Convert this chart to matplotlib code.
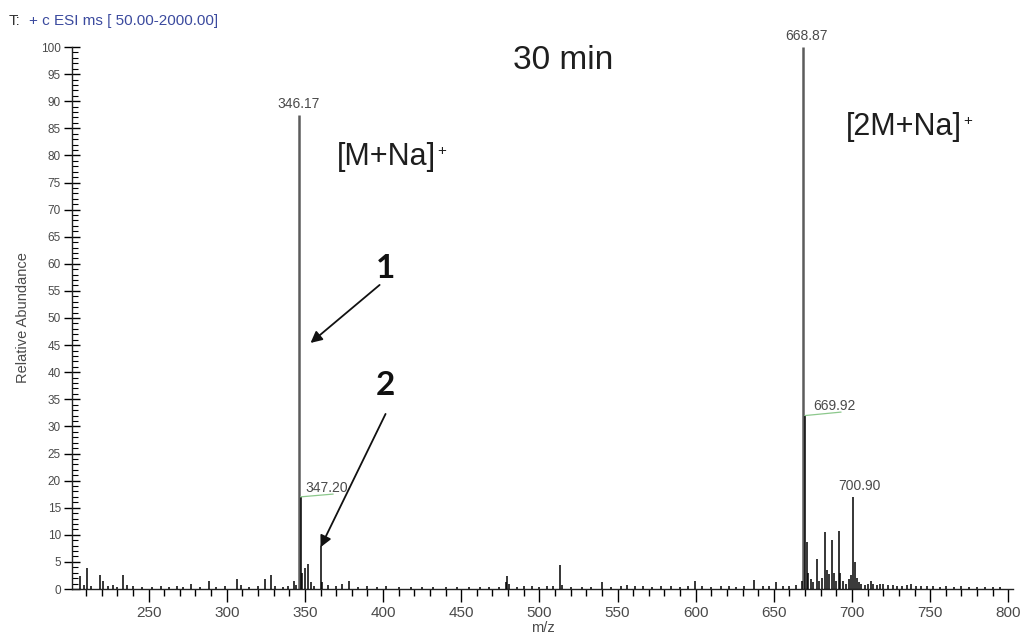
import matplotlib
matplotlib.use("Agg")
import matplotlib.pyplot as plt
from matplotlib.ticker import MultipleLocator

plt.rcParams["font.family"] = ["Liberation Sans", "DejaVu Sans"]

# centroided ESI(+) spectrum, 30 min sample
mz = [206.0, 208.5, 210.4, 213.0, 218.8, 220.8, 224.0, 227.0, 230.0, 233.7,
      236.0, 240.0, 246.0, 252.0, 258.0, 263.0, 268.0, 272.0, 277.0, 283.0,
      288.8, 293.0, 299.0, 306.7, 309.0, 314.0, 320.0, 324.7, 328.0, 331.0,
      336.0, 339.0, 342.9, 344.2, 346.17, 347.20, 348.2, 350.3, 352.0, 354.0,
      356.0, 360.2, 361.2, 365.0, 370.0, 374.0, 378.0, 384.0, 390.0, 396.0,
      402.0, 410.0, 418.0, 425.0, 432.0, 440.0, 447.0, 455.0, 462.0, 468.0,
      474.0, 478.5, 479.6, 480.6, 486.0, 490.0, 495.0, 500.0, 505.0, 509.0,
      513.2, 514.2, 520.0, 527.0, 533.0, 540.0, 546.0, 552.0, 556.0, 561.0,
      566.0, 572.0, 578.0, 584.0, 590.0, 595.0, 599.4, 604.0, 610.0, 616.0,
      621.0, 626.0, 631.0, 637.0, 643.0, 647.0, 651.4, 656.0, 660.0, 664.0,
      667.9, 668.87, 669.92, 670.9, 672.0, 673.5, 675.0, 677.9, 679.0, 681.0,
      683.0, 684.0, 685.5, 687.4, 688.5, 690.0, 691.6, 692.6, 694.0, 696.0,
      698.0, 699.5, 700.90, 701.9, 703.0, 704.5, 706.0, 708.0, 710.0, 712.0,
      713.5, 716.0, 718.0, 720.0, 723.0, 726.0, 729.0, 732.0, 735.0, 738.0,
      741.0, 744.0, 748.0, 752.0, 756.0, 760.0, 765.0, 770.0, 775.0, 780.0,
      785.0, 790.0, 795.0]
rel_abund = [2.4, 0.8, 3.9, 0.6, 2.6, 1.5, 0.5, 0.7, 0.4, 2.6,
             0.8, 0.5, 0.4, 0.3, 0.5, 0.4, 0.5, 0.4, 1.0, 0.4,
             1.5, 0.4, 0.5, 1.8, 0.8, 0.4, 0.5, 1.8, 2.6, 0.6,
             0.4, 0.5, 1.5, 0.8, 87.5, 17.0, 3.0, 3.9, 4.7, 1.2,
             0.6, 7.9, 1.3, 0.8, 0.5, 0.9, 1.5, 0.4, 0.5, 0.3,
             0.6, 0.4, 0.3, 0.4, 0.3, 0.4, 0.3, 0.4, 0.3, 0.4,
             0.4, 1.2, 2.4, 1.0, 0.4, 0.6, 0.5, 0.4, 0.5, 0.6,
             4.4, 0.8, 0.4, 0.3, 0.4, 1.2, 0.4, 0.5, 0.8, 0.6,
             0.5, 0.4, 0.6, 0.5, 0.4, 0.5, 1.5, 0.6, 0.4, 0.5,
             0.6, 0.4, 0.5, 1.6, 0.5, 0.6, 1.3, 0.5, 0.6, 0.8,
             1.5, 100.0, 32.0, 8.7, 3.0, 1.8, 1.2, 5.5, 1.5, 2.0,
             10.6, 3.5, 2.8, 9.0, 3.0, 1.5, 10.7, 3.0, 1.5, 1.0,
             1.8, 2.5, 17.0, 5.0, 2.0, 1.2, 1.0, 0.8, 1.0, 1.5,
             1.0, 0.8, 0.9, 1.0, 0.7, 0.8, 0.6, 0.6, 0.7, 0.9,
             0.6, 0.5, 0.6, 0.5, 0.4, 0.5, 0.4, 0.5, 0.4, 0.4,
             0.3, 0.4, 0.3]

# labelled peaks: (m/z, abundance, label offset in points, leader line)
labelled = [(346.17, 87.5, (0, 3), False),
            (347.20, 17.0, (3.5, 1.5), True),
            (668.87, 100.0, (2, 3), False),
            (669.92, 32.0, (6, 2), True),
            (700.90, 17.0, (4, 3), False)]

fig = plt.figure(figsize=(10.29, 6.37), dpi=100)
ax = fig.add_axes([72 / 1029, 48 / 637, 941 / 1029, 542 / 637])

# base peaks in grey, everything else in black on top
big_mz = [m for m, a in zip(mz, rel_abund) if a > 50]
big_ab = [a for a in rel_abund if a > 50]
ax.vlines(big_mz, 0, big_ab, color="#5c5c5c", lw=1.8, zorder=2)
small_mz = [m for m, a in zip(mz, rel_abund) if a <= 50]
small_ab = [a for a in rel_abund if a <= 50]
ax.vlines(small_mz, 0, small_ab, color="black", lw=1.1, zorder=3)

ax.set_xlim(201, 803)
ax.set_ylim(0, 100)
ax.spines["top"].set_visible(False)
ax.spines["right"].set_visible(False)
for s in ("left", "bottom"):
    ax.spines[s].set_color("#222222")
    ax.spines[s].set_linewidth(1.0)

ax.xaxis.set_major_locator(MultipleLocator(50))
ax.xaxis.set_minor_locator(MultipleLocator(10))
ax.yaxis.set_major_locator(MultipleLocator(5))
ax.yaxis.set_minor_locator(MultipleLocator(1))
ax.tick_params(axis="x", which="major", direction="out", length=9, width=1,
               labelsize=11, labelcolor="#4a4a4a", pad=3)
ax.tick_params(axis="x", which="minor", direction="out", length=5, width=1)
ax.tick_params(axis="y", which="major", direction="inout", length=12, width=1,
               labelsize=8.5, labelcolor="#4a4a4a", pad=2)
ax.tick_params(axis="y", which="minor", direction="in", length=4, width=0.8)

ax.set_xlabel("m/z", fontsize=10.5, color="#4a4a4a", labelpad=1)
ax.set_ylabel("Relative Abundance", fontsize=10.5, color="#4a4a4a")
ax.yaxis.set_label_coords(-0.045, 0.5)

for m, a, off, leader in labelled:
    if leader:
        # thin green leader running under the label
        ax.annotate("", xy=(m, a), xytext=(off[0] + 20, off[1] + 0.5),
                    textcoords="offset points",
                    arrowprops=dict(arrowstyle="-", color="#8cc88c", lw=0.9,
                                    shrinkA=0, shrinkB=0))
        ax.annotate(f"{m:.2f}", xy=(m, a), xytext=off, textcoords="offset points",
                    fontsize=10, color="#4a4a4a", ha="left", va="bottom")
    else:
        ax.annotate(f"{m:.2f}", xy=(m, a), xytext=off, textcoords="offset points",
                    fontsize=10, color="#4a4a4a", ha="center", va="bottom")

ax.text(515.3, 97.6, "30 min", fontsize=24, ha="center", va="center",
        color="#1e1e1e")

# ion labels with a small raised charge sign
for x, y, s in [(402.0, 79.7, "[M+Na]"), (733.4, 85.3, "[2M+Na]")]:
    t = ax.text(x, y, s, fontsize=22, ha="center", va="center", color="#1e1e1e")
    ax.annotate("+", xy=(1, 0.93), xycoords=t, xytext=(1, 0),
                textcoords="offset points", fontsize=11, ha="left", va="top",
                color="#1e1e1e")

# numbered arrows
arrow_style = dict(arrowstyle="-|>", color="#111111", lw=1.3,
                   mutation_scale=17, shrinkA=0, shrinkB=0)
ax.annotate("", xy=(353.6, 45.4), xytext=(397.8, 56.1), arrowprops=arrow_style)
ax.annotate("", xy=(360.0, 7.7), xytext=(401.6, 32.3), arrowprops=arrow_style)
ax.text(401.6, 59.2, "1", fontsize=24, weight="bold", family=["Lato", "DejaVu Sans"],
        ha="center", va="center", color="#111111")
ax.text(401.6, 37.5, "2", fontsize=24, weight="bold", family=["Lato", "DejaVu Sans"],
        ha="center", va="center", color="#111111")

fig.text(9 / 1029, 1 - 21 / 637, "T:", fontsize=11, color="#333333", va="center")
fig.text(29 / 1029, 1 - 21 / 637, "+ c ESI ms [ 50.00-2000.00]", fontsize=11,
         color="#3b4a9e", va="center")

fig.savefig("out.png", dpi=100)
